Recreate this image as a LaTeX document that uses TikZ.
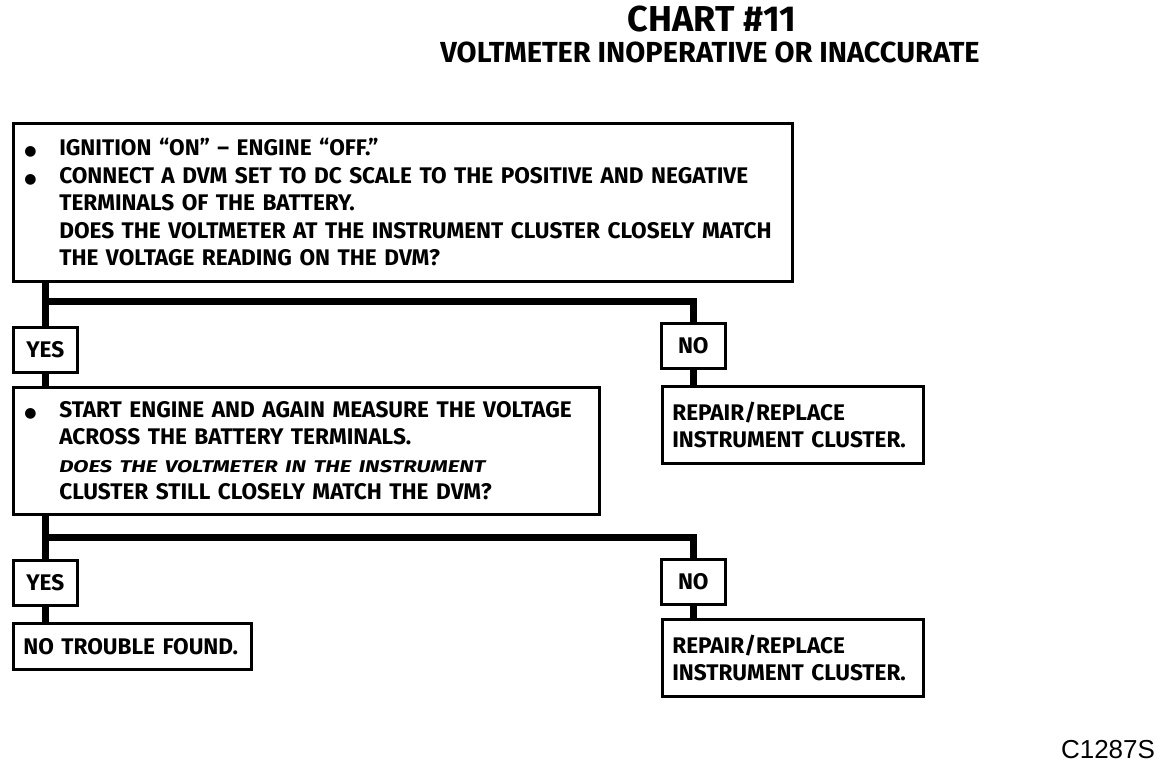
\documentclass[tikz,border=0pt]{standalone}
\usepackage{fontspec}
\setmainfont{Fira Sans}
\newfontfamily\symfont{DejaVu Sans}
\newfontfamily\codefont{Liberation Sans}
\newcommand\blt{\makebox[36pt][l]{\hspace{1pt}{\symfont\fontsize{14}{14}\selectfont ●}}}
\newcommand\ind{\hspace*{36pt}}

\begin{document}
\begin{tikzpicture}[x=1pt,y=-1pt,
  box/.style={draw,line width=2.6pt,anchor=north west,inner xsep=10pt,inner ysep=0pt,
    align=left,font=\fontsize{22.6}{27.5}\selectfont\bfseries},
  ans/.style={box,minimum width=64pt,minimum height=45pt},
  trunk/.style={line width=7pt}]
\useasboundingbox (0,0) rectangle (1168,768);
\node[font=\fontsize{36}{36}\selectfont\bfseries] (t) at (712,19) {CHART \#11};
\node[font=\fontsize{29}{29}\selectfont\bfseries] (st) at (710,52) {VOLTMETER INOPERATIVE OR INACCURATE};
\node[box,text width=759pt,minimum height=158pt] (q1) at (12,122) {\blt IGNITION “ON” -- ENGINE “OFF.”\\
\blt CONNECT A DVM SET TO DC SCALE TO THE POSITIVE AND NEGATIVE\\
\ind TERMINALS OF THE BATTERY.\\
\ind DOES THE VOLTMETER AT THE INSTRUMENT CLUSTER CLOSELY MATCH\\
\ind THE VOLTAGE READING ON THE DVM?};
\node[ans] (y1) at (12,326) {YES};
\node[ans] (n1) at (660,322) {NO};
\node[box,text width=566pt,minimum height=127pt] (q2) at (12,386) {\blt START ENGINE AND AGAIN MEASURE THE VOLTAGE\\
\ind ACROSS THE BATTERY TERMINALS.\\
\ind{\fontsize{17}{21}\selectfont\itshape\addfontfeature{FakeStretch=1.3}DOES THE VOLTMETER IN THE INSTRUMENT}\\
\ind CLUSTER STILL CLOSELY MATCH THE DVM?};
\node[box,text width=241pt,minimum height=77pt] (r1) at (661,385) {REPAIR/REPLACE\\INSTRUMENT CLUSTER.};
\node[ans] (y2) at (12,559) {YES};
\node[ans] (n2) at (660,558) {NO};
\node[box,text width=218pt,minimum height=46pt] (ok) at (12,622) {NO TROUBLE FOUND.};
\node[box,text width=241pt,minimum height=77pt] (r2) at (661,618) {REPAIR/REPLACE\\INSTRUMENT CLUSTER.};
\node[font=\fontsize{26}{26}\selectfont\codefont] (id) at (1108,750) {C1287S};
\coordinate (b1) at (46,301);
\coordinate (b2) at (46,537);
\draw[trunk] (y1.north |- q1.south) -- (y1.north);
\draw[trunk] (y1.north |- b1) -| (n1.north);
\draw[trunk] (y1.south) -- (y1.south |- q2.north);
\draw[trunk] (n1.south) -- (n1.south |- r1.north);
\draw[trunk] (y2.north |- q2.south) -- (y2.north);
\draw[trunk] (y2.north |- b2) -| (n2.north);
\draw[trunk] (y2.south) -- (y2.south |- ok.north);
\draw[trunk] (n2.south) -- (n2.south |- r2.north);
\end{tikzpicture}
\end{document}
